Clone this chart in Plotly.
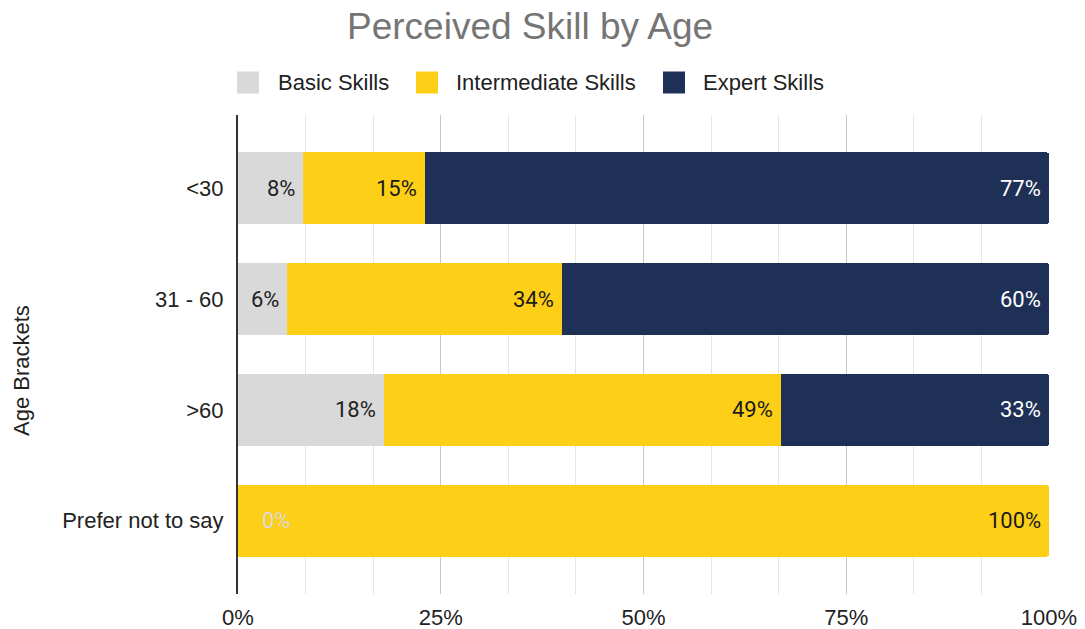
import numpy as np
import plotly.graph_objects as go

# ---- data ----
categories = ["<30", "31 - 60", ">60", "Prefer not to say"]
series_names = ["Basic Skills", "Intermediate Skills", "Expert Skills"]
basic = [8, 6, 18, 0]
intermediate = [15, 34, 49, 100]
expert = [77, 60, 33, None]
x_tick_values = [0, 25, 50, 75, 100]
x_tick_labels = ["0%", "25%", "50%", "75%", "100%"]

# ---- styling ----
colors = ["#d9d9d9", "#fdd017", "#1e3055"]
label_colors = ["#222222", "#1a1a1a", "#ffffff"]
W, H = 1085, 629
M_L, M_R, M_T, M_B = 238, 36, 115, 35
PLOT_W = W - M_L - M_R
PLOT_H = H - M_T - M_B
SANS = "Liberation Sans, Arial, sans-serif"
LABEL_FONT = "Roboto, Arial, sans-serif"


def px_x(p):
    return (p - M_L) / PLOT_W


def px_y(p):
    return (M_T + PLOT_H - p) / PLOT_H


series = [basic, intermediate, expert]
fig = go.Figure()
for name, vals, col in zip(series_names, series, colors):
    fig.add_trace(go.Bar(
        y=categories, x=vals, name=name, orientation="h",
        marker=dict(color=col, line=dict(width=0)),
        width=0.65, showlegend=False, hoverinfo="x+y+name",
    ))

annotations = []
# value labels at the right end of each segment
cum = np.zeros(len(categories))
for vals, lc, col in zip(series, label_colors, colors):
    for i, v in enumerate(vals):
        if v is None:
            continue
        start = cum[i]
        end = start + v
        if v > 0:
            annotations.append(dict(
                x=end, y=categories[i], xref="x", yref="y",
                text=f"{v}%", showarrow=False, xanchor="right", yanchor="middle",
                xshift=-6, font=dict(family=LABEL_FONT, size=22, color=lc),
            ))
        else:
            annotations.append(dict(
                x=start, y=categories[i], xref="x", yref="y",
                text=f"{v}%", showarrow=False, xanchor="left", yanchor="middle",
                xshift=22, font=dict(family=LABEL_FONT, size=22, color=col),
            ))
        cum[i] = end

# title
annotations.append(dict(
    x=px_x(530), y=px_y(27), xref="paper", yref="paper",
    text="Perceived Skill by Age", showarrow=False,
    xanchor="center", yanchor="middle",
    font=dict(family=SANS, size=37, color="#757575"),
))
# y-axis title
annotations.append(dict(
    x=px_x(21), y=px_y(370), xref="paper", yref="paper",
    text="Age Brackets", showarrow=False, textangle=-90,
    xanchor="center", yanchor="middle",
    font=dict(family=SANS, size=22, color="#222222"),
))

# legend row
legend_swatch_x = [237, 416, 663]
legend_text_x = [276, 454, 701]
legend_cy = 82.5
shapes = []
for sx, tx, name, col in zip(legend_swatch_x, legend_text_x, series_names, colors):
    shapes.append(dict(
        type="rect", xref="paper", yref="paper",
        x0=px_x(sx), x1=px_x(sx + 22), y0=px_y(legend_cy - 11), y1=px_y(legend_cy + 11),
        fillcolor=col, line=dict(width=0), layer="above",
    ))
    annotations.append(dict(
        x=px_x(tx), y=px_y(legend_cy), xref="paper", yref="paper",
        text=name, showarrow=False, xanchor="left", yanchor="middle",
        font=dict(family=SANS, size=22, color="#222222"),
    ))

pad = (PLOT_H / 110.8 - (len(categories) - 1)) / 2

fig.update_layout(
    width=W, height=H,
    margin=dict(l=M_L, r=M_R, t=M_T, b=M_B, pad=0, autoexpand=False),
    barmode="stack",
    barcornerradius=3,
    paper_bgcolor="white", plot_bgcolor="white",
    showlegend=False,
    annotations=annotations,
    shapes=shapes,
    xaxis=dict(
        range=[0, 100], tickvals=x_tick_values, ticktext=x_tick_labels,
        showgrid=True, gridcolor="#c8c8c8", gridwidth=1,
        minor=dict(dtick=100 / 12, tick0=0, showgrid=True, gridcolor="#e6e6e6", gridwidth=1),
        zeroline=False, showline=False, ticks="",
        tickfont=dict(family=SANS, size=22, color="#222222"),
        ticklabelstandoff=8, fixedrange=True, automargin=False,
    ),
    yaxis=dict(
        type="category", categoryarray=categories,
        range=[len(categories) - 1 + pad, -pad],
        showgrid=False, zeroline=False,
        showline=True, linecolor="#333333", linewidth=2,
        ticks="", tickfont=dict(family=SANS, size=22, color="#222222"),
        ticklabelstandoff=8, fixedrange=True, automargin=False,
    ),
)

fig.write_html("out.html", config={"displayModeBar": False})
